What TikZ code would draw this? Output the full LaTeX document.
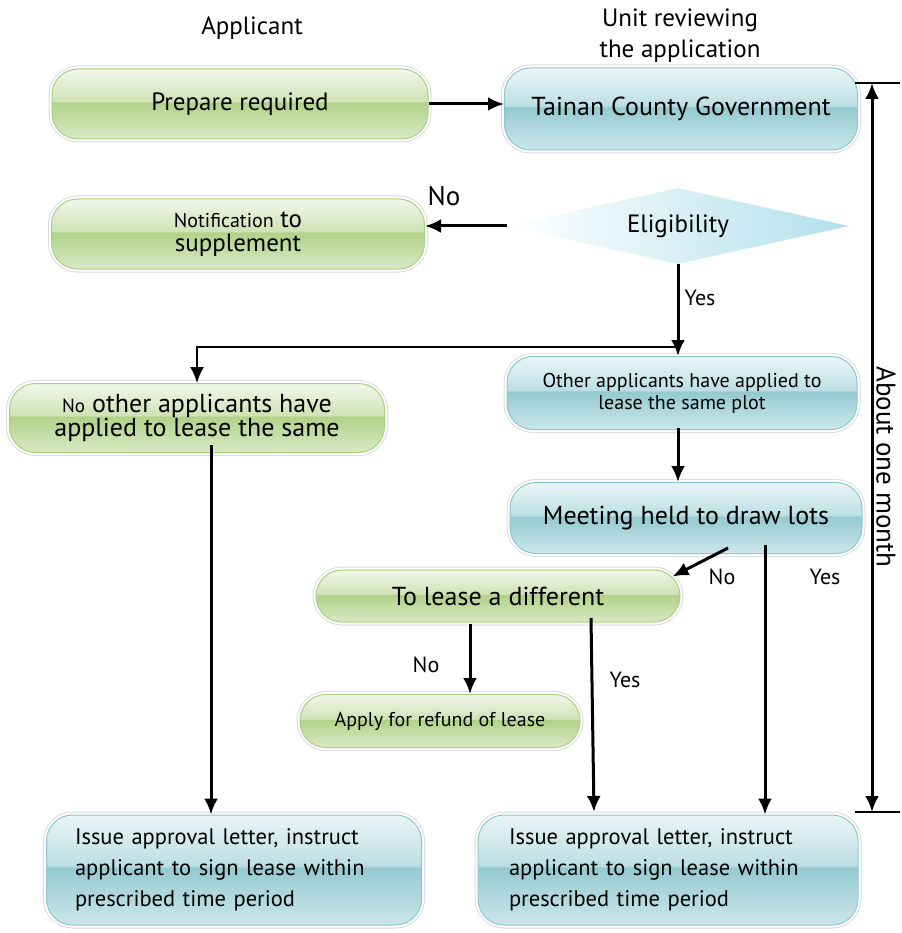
\documentclass[tikz,border=0pt]{standalone}
\usepackage{fontspec}
\setmainfont{PT Sans}
\usetikzlibrary{arrows.meta,shapes.geometric}
\definecolor{gtop}{HTML}{F2F7EB}
\definecolor{gup}{HTML}{CFE3B6}
\definecolor{gdark}{HTML}{B1D289}
\definecolor{gbot}{HTML}{D9EAC6}
\definecolor{gline}{HTML}{A9CF82}
\definecolor{btop}{HTML}{EAF5F7}
\definecolor{bup}{HTML}{BCDFE4}
\definecolor{bdark}{HTML}{95CAD1}
\definecolor{bbot}{HTML}{CBE7EB}
\definecolor{bline}{HTML}{8CC6CE}
\definecolor{dcyan}{HTML}{B2E0EC}
\pgfdeclareverticalshading{greengloss}{100bp}{color(0bp)=(gbot); color(25bp)=(gbot);
  color(51bp)=(gdark); color(52bp)=(gup); color(75bp)=(gtop); color(100bp)=(gtop)}
\pgfdeclareverticalshading{bluegloss}{100bp}{color(0bp)=(bbot); color(25bp)=(bbot);
  color(51bp)=(bdark); color(52bp)=(bup); color(75bp)=(btop); color(100bp)=(btop)}
\begin{document}
\begin{tikzpicture}[x=1pt,y=-1pt,>={Latex[length=16pt,width=14pt]},
  gbox/.style={rectangle,rounded corners=26pt,shade,shading=greengloss,draw=gline,line width=1pt,
    preaction={draw=black!14,line width=7pt},preaction={draw=white,line width=5pt},
    inner sep=0pt,align=center,font=\fontsize{25}{26}\selectfont},
  bbox/.style={gbox,shading=bluegloss,draw=bline},
  flow/.style={->,line width=3pt},
  thinflow/.style={->,line width=2pt},
  lbl/.style={font=\fontsize{22}{24}\selectfont}]
\useasboundingbox (0,0) rectangle (901,933);

\node[font=\fontsize{25}{28}\selectfont] (appl) at (252,28) {Applicant};
\node[align=center,font=\fontsize{25}{31}\selectfont] (unit) at (680,36) {Unit reviewing\\the application};

\node[gbox,minimum width=376pt,minimum height=70pt] (prep) at (240,104) {Prepare required};
\node[bbox,minimum width=353pt,minimum height=82pt,font=\fontsize{26}{28}\selectfont] (tainan) at (681,109) {Tainan County Government};
\node[gbox,minimum width=373pt,minimum height=70pt,font=\fontsize{25}{24}\selectfont] (notif) at (238,234) {{\fontsize{20}{21}\selectfont Notification} to\\supplement};
\node[diamond,shape aspect=4.5,minimum width=342pt,minimum height=76pt,inner sep=0pt,
  left color=white,right color=dcyan,font=\fontsize{25}{26}\selectfont] (elig) at (678,226) {Eligibility};
\node[gbox,minimum width=375pt,minimum height=69pt,font=\fontsize{26}{23}\selectfont] (noother) at (197,418) {{\fontsize{19}{20}\selectfont No} other applicants have\\applied to lease the same};
\node[bbox,minimum width=350pt,minimum height=73pt,font=\fontsize{20}{22}\selectfont] (other) at (682,393) {Other applicants have applied to\\lease the same plot};
\node[bbox,minimum width=352pt,minimum height=71pt,font=\fontsize{26}{28}\selectfont] (meet) at (686,518) {Meeting held to draw lots};
\node[gbox,minimum width=364pt,minimum height=52pt,font=\fontsize{26}{28}\selectfont] (lease) at (498,596) {To lease a different};
\node[gbox,minimum width=280pt,minimum height=53pt,font=\fontsize{20}{22}\selectfont] (refund) at (440,721) {Apply for refund of lease};
\node[bbox,minimum width=375pt,minimum height=110pt,text width=318pt,align=left,font=\fontsize{22.5}{31}\selectfont] (apprL) at (234,870) {Issue approval letter, instruct\\applicant to sign lease within\\prescribed time period};
\node[bbox,minimum width=380pt,minimum height=110pt,text width=318pt,align=left,font=\fontsize{22.5}{31}\selectfont] (apprR) at (668,870) {Issue approval letter, instruct\\applicant to sign lease within\\prescribed time period};

% connectors
\draw[flow] (prep.east) -- (prep.east -| tainan.west);
\draw[flow] (elig.west) -- (elig.west -| notif.east);
\node[font=\fontsize{27}{28}\selectfont] (no1) at (444,196) {No};
\draw[flow] (elig.south) -- (elig.south |- other.north);
\node[lbl] (yes1) at (700,298) {Yes};
\coordinate (fork) at (678,347);
\draw[thinflow] (fork) -| (noother.north);
\coordinate (oth) at (678,428);
\draw[flow] (oth) -- (oth |- meet.north);
\draw[flow] ([xshift=42pt,yshift=6pt]meet.south) -- ([xshift=-8pt,yshift=-7pt]lease.north east);
\node[lbl] (no2) at (722,577) {No};
\coordinate (myes) at (765,545);
\draw[flow] (myes) -- (myes |- apprR.north);
\node[lbl] (yes2) at (825,577) {Yes};
\coordinate (lno) at (470,624);
\draw[flow] (lno) -- (lno |- refund.north);
\node[lbl] (no3) at (426,665) {No};
\coordinate (lyes) at (591,618);
\coordinate (lyesend) at (594,812);
\draw[flow] (lyes) -- (lyesend);
\node[lbl] (yes3) at (625,680) {Yes};
\coordinate (nostart) at (211,445);
\draw[flow] (nostart) -- (nostart |- apprL.north);

% about one month
\coordinate (mtop) at (872,83);
\coordinate (mbot) at (872,812);
\draw[flow,<->] (mtop) -- (mbot);
\draw[line width=1.3pt] (mtop) +(-17,0) -- +(28,0);
\draw[line width=1.3pt] (mbot) +(-17,0) -- +(28,0);
\node[rotate=-90,font=\fontsize{27}{28}\selectfont] (month) at (886,467) {About one month};
\end{tikzpicture}
\end{document}
